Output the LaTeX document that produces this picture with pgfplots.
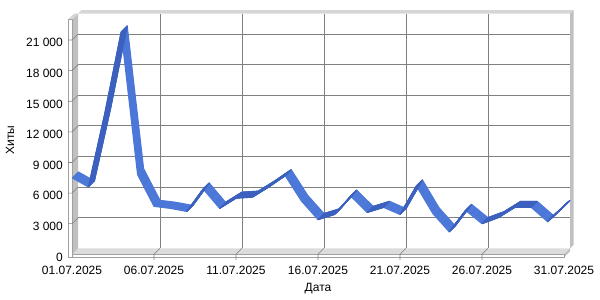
\documentclass[border=0pt]{standalone}
\usepackage{pgfplots}
\pgfplotsset{compat=1.18}
\usepackage{pgfplotstable}
\usepackage{fontspec}
\setmainfont{Liberation Sans}
\definecolor{gridc}{HTML}{808080}
\definecolor{wallside}{HTML}{C0C0C0}
\definecolor{floortop}{HTML}{DCDCDC}
\definecolor{capc}{HTML}{D6D6D6}
\definecolor{edgec}{HTML}{A0A0A0}
\definecolor{ribbon}{HTML}{4B77D8}
\definecolor{ribbondark}{HTML}{3C60BE}
\pgfplotstableread{
x y
1 7500
2 6600
3 13800
4 21800
5 7800
6 4700
7 4500
8 4200
9 6400
10 4500
11 5500
12 5600
13 6600
14 7700
15 5200
16 3400
17 3900
18 5700
19 4100
20 4600
21 3900
22 6700
23 4000
24 2200
25 4300
26 3000
27 3600
28 4600
29 4600
30 3200
31 4700
}\hits
% rising segments (darker faces)
\pgfplotstableread{
x y
2 6600
3 13800
4 21800
nan nan
8 4200
9 6400
nan nan
10 4500
11 5500
12 5600
13 6600
14 7700
nan nan
16 3400
17 3900
18 5700
nan nan
19 4100
20 4600
nan nan
21 3900
22 6700
nan nan
24 2200
25 4300
nan nan
26 3000
27 3600
28 4600
29 4600
nan nan
30 3200
31 4700
}\rising
\begin{document}
\begin{tikzpicture}
\path[use as bounding box] (0,0) rectangle (600pt,300pt);
\begin{axis}[
  at={(72pt,45.7pt)}, anchor=south west,
  scale only axis, width=492pt, height=234.7pt,
  xmin=1, xmax=31, ymin=0, ymax=23000,
  clip=false,
  scaled y ticks=false,
  axis line style={draw=none},
  major tick length=0pt,
  unbounded coords=jump,
  xtick={1,6,11,16,21,26,31},
  xticklabels={01.07.2025,06.07.2025,11.07.2025,16.07.2025,21.07.2025,26.07.2025,31.07.2025},
  ytick={0,3000,6000,9000,12000,15000,18000,21000},
  yticklabels={0,3\ 000,6\ 000,9\ 000,12\ 000,15\ 000,18\ 000,21\ 000},
  ticklabel style={font=\fontsize{12}{14}\selectfont, inner sep=0pt},
  xticklabel style={anchor=north, yshift=-11.4pt},
  yticklabel style={anchor=east, xshift=-9pt, yshift=-2.7pt},
]
% back grid
\pgfplotsinvokeforeach{3000,6000,9000,12000,15000,18000,21000}{
  \draw[gridc, line width=0.9pt] ([shift={(6pt,6pt)}]axis cs:1,#1) -- ([shift={(6pt,6pt)}]axis cs:31,#1);
}
\pgfplotsinvokeforeach{6,11,16,21,26}{
  \draw[gridc, line width=0.9pt] ([shift={(6pt,6pt)}]axis cs:#1,0) -- ([shift={(6pt,6pt)}]axis cs:#1,23000);
}
% back wall thickness: top cap and right face
\fill[capc] ([shift={(6pt,6pt)}]axis cs:1,23000) -- ([shift={(6pt,6pt)}]axis cs:31,23000) -- ([shift={(9.5pt,9.5pt)}]axis cs:31,23000) -- ([shift={(9.5pt,9.5pt)}]axis cs:1,23000) -- cycle;
\fill[wallside] ([shift={(6pt,6pt)}]axis cs:31,0) -- ([shift={(9.5pt,9.5pt)}]axis cs:31,0) -- ([shift={(9.5pt,9.5pt)}]axis cs:31,23000) -- ([shift={(6pt,6pt)}]axis cs:31,23000) -- cycle;
% floor
\fill[floortop] (axis cs:1,0) -- (axis cs:31,0) -- ([shift={(6pt,6pt)}]axis cs:31,0) -- ([shift={(6pt,6pt)}]axis cs:1,0) -- cycle;
\fill[wallside] (axis cs:31,0) -- ([shift={(6pt,6pt)}]axis cs:31,0) -- ([shift={(6pt,3pt)}]axis cs:31,0) -- ([yshift=-3pt]axis cs:31,0) -- cycle;
\filldraw[fill=white, draw=edgec, line width=0.6pt] ([xshift=-4pt]axis cs:1,0) rectangle ([yshift=-3pt]axis cs:31,0);
% left wall
\fill[wallside] (axis cs:1,0) -- ([shift={(6pt,6pt)}]axis cs:1,0) -- ([shift={(6pt,6pt)}]axis cs:1,23000) -- (axis cs:1,23000) -- cycle;
\fill[capc] ([xshift=-4pt]axis cs:1,23000) -- (axis cs:1,23000) -- ([shift={(6pt,6pt)}]axis cs:1,23000) -- ([shift={(2pt,6pt)}]axis cs:1,23000) -- cycle;
\filldraw[fill=white, draw=edgec, line width=0.6pt] ([shift={(-4pt,-3pt)}]axis cs:1,0) rectangle (axis cs:1,23000);
% ticks across floor and wall
\pgfplotsinvokeforeach{6,11,16,21,26}{
  \draw[gridc, line width=0.6pt] ([yshift=-5.5pt]axis cs:#1,0) -- (axis cs:#1,0) -- ([shift={(6pt,6pt)}]axis cs:#1,0);
}
\pgfplotsinvokeforeach{3000,6000,9000,12000,15000,18000,21000}{
  \draw[gridc, line width=0.6pt] ([xshift=-4pt]axis cs:1,#1) -- (axis cs:1,#1) -- ([shift={(6pt,6pt)}]axis cs:1,#1);
}
% ribbon: light faces
\pgfplotsinvokeforeach{0,1,2,3,4,5,6,7,8,9,10,11,12}{
  \addplot[ribbon, line width=1.1pt, line join=round] table[x expr=\thisrow{x}+#1*0.0305, y expr=\thisrow{y}+#1*49]{\hits};
}
% ribbon: darker rising faces
\pgfplotsinvokeforeach{0,1,2,3,4,5,6,7,8,9,10,11,12}{
  \addplot[ribbondark, line width=1.1pt, line join=round, line cap=round] table[x expr=\thisrow{x}+#1*0.0305, y expr=\thisrow{y}+#1*49]{\rising};
}
\end{axis}
\node[rotate=90, font=\fontsize{12}{14}\selectfont, inner sep=0pt] at (10pt,160pt) {Хиты};
\node[font=\fontsize{12}{14}\selectfont, inner sep=0pt] at (318pt,11pt) {Дата};
\end{tikzpicture}
\end{document}
